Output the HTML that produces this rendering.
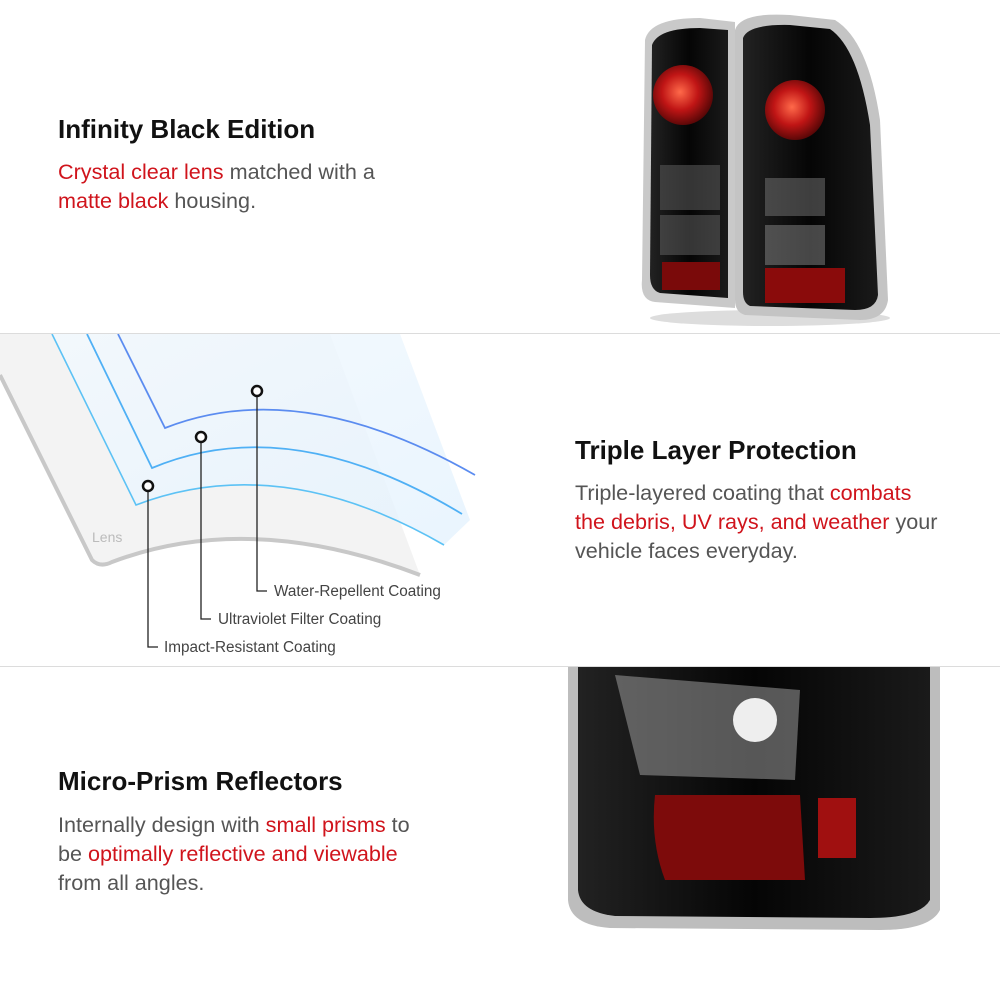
<!DOCTYPE html>
<html><head><meta charset="utf-8"><style>
html,body{margin:0;padding:0;background:#fff}
body{width:1000px;height:1000px;position:relative;overflow:hidden;font-family:"Liberation Sans",sans-serif}
.t{position:absolute;font-size:26px;color:#111;font-weight:bold;letter-spacing:0px}
.b{position:absolute;font-size:21.6px;color:#555;line-height:29px}
.r{color:#d0141c}
.hr{position:absolute;left:0;width:1000px;height:1px;background:#dcdcdc}
svg{position:absolute;left:0;top:0}
</style></head><body>
<svg width="1000" height="1000" viewBox="0 0 1000 1000">
<defs>
<linearGradient id="sh" x1="0" y1="0" x2="1" y2="1"><stop offset="0" stop-color="#f2f9ff"/><stop offset="1" stop-color="#e4f2fd"/></linearGradient>
<radialGradient id="red" cx="0.45" cy="0.45" r="0.6"><stop offset="0" stop-color="#ff6a4a"/><stop offset="0.5" stop-color="#c01515"/><stop offset="1" stop-color="#4a0505"/></radialGradient>
<linearGradient id="blk" x1="0" x2="1"><stop offset="0" stop-color="#222"/><stop offset="0.5" stop-color="#050505"/><stop offset="1" stop-color="#1a1a1a"/></linearGradient>
</defs>
<path d="M0,334 L0,375 L92,560 Q100,568 112,562 Q250,510 420,575 L330,334 Z" fill="#f3f3f3"/>
<path d="M0,375 L92,560 Q100,568 112,562 Q250,510 420,575" fill="none" stroke="#c8c8c8" stroke-width="4"/>
<path d="M52,334 L136,505 Q280,450 444,545 L470,520 L400,334 Z" fill="url(#sh)" opacity="0.8"/>
<path d="M52,334 L136,505 Q280,450 444,545" fill="none" stroke="#5cc2f5" stroke-width="1.6"/>
<path d="M87,334 L152,468 Q290,410 462,514" fill="none" stroke="#4fb0f5" stroke-width="1.8"/>
<path d="M118,334 L165,428 Q300,375 475,475" fill="none" stroke="#5b8cf0" stroke-width="1.8"/>
<text x="92" y="542" font-family="Liberation Sans" font-size="14" fill="#bbb">Lens</text>
<g fill="none" stroke="#222" stroke-width="1.3">
<path d="M257,396 V591 H267"/><path d="M201,442 V619 H211"/><path d="M148,491 V647 H158"/>
</g>
<g fill="#fff" stroke="#111" stroke-width="2.5"><circle cx="257" cy="391" r="5"/><circle cx="201" cy="437" r="5"/><circle cx="148" cy="486" r="5"/></g>
<g font-family="Liberation Sans" font-size="15.3" fill="#444">
<text x="274" y="596">Water-Repellent Coating</text>
<text x="218" y="624">Ultraviolet Filter Coating</text>
<text x="164" y="652">Impact-Resistant Coating</text>
</g>
<ellipse cx="770" cy="318" rx="120" ry="8" fill="#ddd"/>
<path d="M645,40 Q650,18 700,18 L735,22 L735,308 L655,302 Q640,300 642,280 Z" fill="#c9c9c9"/>
<path d="M652,45 Q658,28 700,28 L728,30 L728,298 L660,293 Q650,290 650,275 Z" fill="url(#blk)"/>
<circle cx="683" cy="95" r="30" fill="url(#red)"/>
<rect x="660" y="165" width="60" height="45" fill="#555" opacity="0.6"/>
<rect x="660" y="215" width="60" height="40" fill="#666" opacity="0.5"/>
<rect x="662" y="262" width="58" height="28" fill="#7a0a0a"/>
<path d="M735,30 Q740,12 790,15 L835,20 Q868,40 880,120 L888,300 Q885,320 860,320 L745,315 Q735,312 735,300 Z" fill="#c4c4c4"/>
<path d="M743,38 Q748,24 790,25 L830,29 Q858,48 870,125 L878,295 Q876,310 855,310 L750,306 Q743,303 743,292 Z" fill="url(#blk)"/>
<circle cx="795" cy="110" r="30" fill="url(#red)"/>
<rect x="765" y="178" width="60" height="38" fill="#777" opacity="0.5"/>
<rect x="765" y="225" width="60" height="40" fill="#888" opacity="0.5"/>
<rect x="765" y="268" width="80" height="35" fill="#8a0b0b"/>
<path d="M568,667 L940,667 L940,910 Q930,930 880,930 L610,928 Q570,925 568,900 Z" fill="#bdbdbd"/>
<path d="M578,667 L930,667 L930,900 Q920,918 870,918 L615,916 Q580,912 578,890 Z" fill="url(#blk)"/>
<path d="M615,675 L800,690 L795,780 L640,775 Z" fill="#9a9a9a" opacity="0.55"/>
<circle cx="755" cy="720" r="22" fill="#eee"/>
<path d="M655,795 L800,795 L805,880 L665,880 Q650,840 655,795 Z" fill="#7d0b0b"/>
<rect x="818" y="798" width="38" height="60" fill="#a01010"/>
</svg>
<div class="hr" style="top:333px"></div>
<div class="hr" style="top:666px"></div>
<div class="t" style="left:58px;top:114px">Infinity Black Edition</div>
<div class="b" style="left:58px;top:157px"><span class="r">Crystal clear lens</span> matched with a<br><span class="r">matte black</span> housing.</div>
<div class="t" style="left:575px;top:435px">Triple Layer Protection</div>
<div class="b" style="left:575px;top:478px">Triple-layered coating that <span class="r">combats<br>the debris, UV rays, and weather</span> your<br>vehicle faces everyday.</div>
<div class="t" style="left:58px;top:766px">Micro-Prism Reflectors</div>
<div class="b" style="left:58px;top:810px">Internally design with <span class="r">small prisms</span> to<br>be <span class="r">optimally reflective and viewable</span><br>from all angles.</div>
</body></html>
